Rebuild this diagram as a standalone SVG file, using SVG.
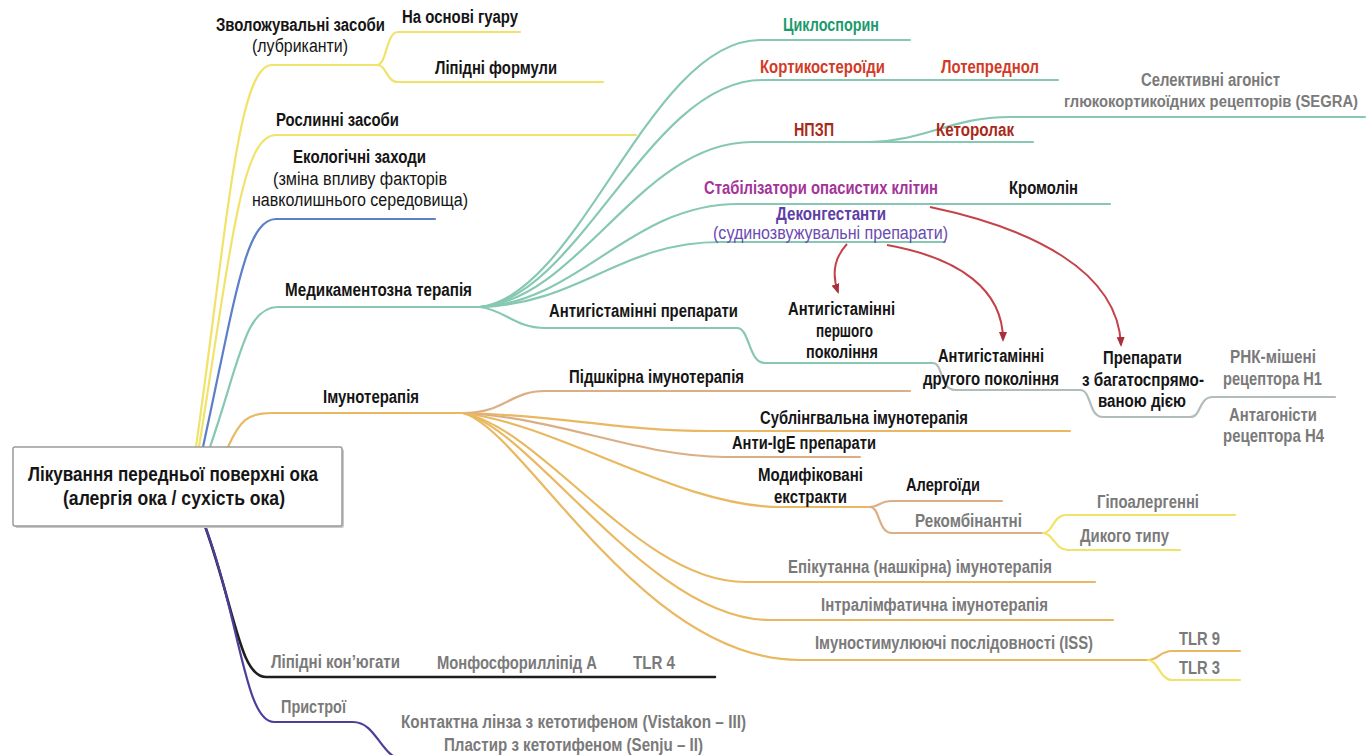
<svg xmlns="http://www.w3.org/2000/svg" width="1371" height="755" viewBox="0 0 1371 755">
<defs>
<style>
.t{font-family:"Liberation Sans Narrow","Liberation Sans",Arial,sans-serif;font-size:18px;font-weight:bold;fill:#151515}
.n{font-weight:normal}
.g{fill:#7a7a7a}
.r{font-size:21px}
.c{fill:none;stroke-width:2.2;stroke-linecap:round}
.y{stroke:#f1e36a}
.b{stroke:#5b7fc9}
.gr{stroke:#86c8b2}
.o{stroke:#e9b860}
.ob{stroke:#dcae86}
.gy{stroke:#b2bcb8}
.k{stroke:#1e1e1e;stroke-width:2.6}
.p{stroke:#4a3f9a}
.red{fill:none;stroke:#c4434a;stroke-width:2;marker-end:url(#ah)}
</style>
<marker id="ah" viewBox="0 0 10 10" refX="8" refY="5" markerWidth="5" markerHeight="5" orient="auto">
<path d="M0,1 L10,5 L0,9 z" fill="#a8303a"/>
</marker>
</defs>
<rect width="1371" height="755" fill="#ffffff"/>

<g id="connectors">
<path class="c y" d="M196,447 C228,220 238,65 272,65 L377,65"/>
<path class="c y" d="M377,65 C387,65 386,32 398,32 L520,32"/>
<path class="c y" d="M377,65 C387,65 386,82 398,82 L603,82"/>
<path class="c y" d="M199,447 C232,240 242,135 276,135 L636,135"/>
<path class="c b" d="M203,447 C235,300 245,219 276,219 L435,219"/>
<path class="c gr" d="M210,447 C240,360 245,307 278,307 L480,307"/>
<path class="c o" d="M228,447 C240,420 248,413 272,413 L463,413"/>
<path class="c k" d="M205,526 C235,610 240,677 266,677 L715,677"/>
<path class="c p" d="M205,526 C240,620 245,722 274,722 L353,722 C376,722 380,755 402,760"/>
<path class="c gr" d="M480,307 C580,295 650,40 760,40 L910,40"/>
<path class="c gr" d="M480,307 C580,297 650,80 762,80 L1058,80"/>
<path class="c gr" d="M480,307 C580,299 640,142 752,142 L1033,142"/>
<path class="c gr" d="M870,142 C930,140 950,117 1010,117 L1365,117"/>
<path class="c gr" d="M480,307 C580,302 630,204 738,204 L1110,204"/>
<path class="c gr" d="M480,307 C580,304 620,242 720,242 L945,242"/>
<path class="c gr" d="M480,307 C505,310 515,328 545,328 L737,328 C750,328 748,363 765,363 L933,363"/>
<path class="c gy" d="M933,363 C943,363 940,390 955,390 L1080,390 C1092,390 1088,417 1103,417 L1190,417 C1202,417 1198,397 1213,397 L1335,397"/>
<path class="c ob" d="M463,413 C505,413 510,391 545,391 L910,391"/>
<path class="c o" d="M463,413 C560,415 620,431 710,431 L1070,431"/>
<path class="c ob" d="M463,413 C560,418 640,457 725,457 L860,457"/>
<path class="c o" d="M463,413 C560,425 680,507 780,507 L870,507"/>
<path class="c ob" d="M870,507 C880,507 879,501 892,501 L1002,501"/>
<path class="c ob" d="M870,507 C880,507 878,533 892,533 L1043,533"/>
<path class="c y" d="M1043,533 C1053,533 1053,515 1066,515 L1235,515"/>
<path class="c y" d="M1043,533 C1053,533 1055,550 1068,550 L1180,550"/>
<path class="c o" d="M463,413 C545,430 640,582 745,582 L1095,582"/>
<path class="c o" d="M463,413 C535,430 650,620 770,620 L1113,620"/>
<path class="c o" d="M463,413 C525,430 640,660 800,660 L1148,660"/>
<path class="c o" d="M1148,660 C1158,660 1160,651 1172,651 L1240,651"/>
<path class="c y" d="M1148,660 C1158,660 1160,680 1172,680 L1240,680"/>
<path class="red" d="M847,244 C834,258 832,275 838,292"/>
<path class="red" d="M887,245 C960,258 1003,290 1003,340"/>
<path class="red" d="M930,207 C1030,228 1118,270 1121,345"/>
</g>

<g id="root">
<rect x="15" y="449" width="329" height="79" rx="2" fill="#c9c9c9"/>
<rect x="13" y="447" width="329" height="79" rx="2" fill="#ffffff" stroke="#9a9a9a" stroke-width="1.5"/>
<text class="t r" x="28" y="481" textLength="290" lengthAdjust="spacingAndGlyphs">Лікування передньої поверхні ока</text>
<text class="t r" x="63" y="505" textLength="222" lengthAdjust="spacingAndGlyphs">(алергія ока / сухість ока)</text>
</g>

<g id="n-lubricants">
<text class="t" x="216" y="31" textLength="169" lengthAdjust="spacingAndGlyphs">Зволожувальні засоби</text>
<text class="t n" x="252" y="52" textLength="96" lengthAdjust="spacingAndGlyphs">(лубриканти)</text>
</g>
<g id="n-guar"><text class="t" x="402" y="23" textLength="116" lengthAdjust="spacingAndGlyphs">На основі гуару</text></g>
<g id="n-lipid-form"><text class="t" x="435" y="74" textLength="122" lengthAdjust="spacingAndGlyphs">Ліпідні формули</text></g>
<g id="n-plant"><text class="t" x="276" y="126" textLength="123" lengthAdjust="spacingAndGlyphs">Рослинні засоби</text></g>
<g id="n-eco">
<text class="t" x="293" y="163" textLength="133" lengthAdjust="spacingAndGlyphs">Екологічні заходи</text>
<text class="t n" x="273" y="185" textLength="174" lengthAdjust="spacingAndGlyphs">(зміна впливу факторів</text>
<text class="t n" x="252" y="206" textLength="216" lengthAdjust="spacingAndGlyphs">навколишнього середовища)</text>
</g>
<g id="n-med"><text class="t" x="285" y="296" textLength="187" lengthAdjust="spacingAndGlyphs">Медикаментозна терапія</text></g>
<g id="n-immuno"><text class="t" x="323" y="403" textLength="96" lengthAdjust="spacingAndGlyphs">Імунотерапія</text></g>

<g id="n-cyclo"><text class="t" x="783" y="31" textLength="96" lengthAdjust="spacingAndGlyphs" style="fill:#1c9a6c">Циклоспорин</text></g>
<g id="n-cortico"><text class="t" x="760" y="73" textLength="125" lengthAdjust="spacingAndGlyphs" style="fill:#d23b27">Кортикостероїди</text></g>
<g id="n-lotepred"><text class="t" x="941" y="73" textLength="98" lengthAdjust="spacingAndGlyphs" style="fill:#d23b27">Лотепреднол</text></g>
<g id="n-segra">
<text class="t g" x="1141" y="86" textLength="139" lengthAdjust="spacingAndGlyphs">Селективні агоніст</text>
<text class="t g" x="1064" y="107" textLength="294" lengthAdjust="spacingAndGlyphs" style="font-size:16px">глюкокортикоїдних рецепторів (SEGRA)</text>
</g>
<g id="n-nsaid"><text class="t" x="794" y="136" textLength="40" lengthAdjust="spacingAndGlyphs" style="fill:#a82a1a">НПЗП</text></g>
<g id="n-ketorolac"><text class="t" x="936" y="136" textLength="78" lengthAdjust="spacingAndGlyphs" style="fill:#a82a1a">Кеторолак</text></g>
<g id="n-mast"><text class="t" x="704" y="194" textLength="234" lengthAdjust="spacingAndGlyphs" style="fill:#a4339a">Стабілізатори опасистих клітин</text></g>
<g id="n-cromolin"><text class="t" x="1009" y="194" textLength="69" lengthAdjust="spacingAndGlyphs">Кромолін</text></g>
<g id="n-decong">
<text class="t" x="776" y="220" textLength="110" lengthAdjust="spacingAndGlyphs" style="fill:#5f3ea6">Деконгестанти</text>
<text class="t n" x="713" y="239" textLength="235" lengthAdjust="spacingAndGlyphs" style="fill:#6a4cb2">(судинозвужувальні препарати)</text>
</g>
<g id="n-antihist"><text class="t" x="549" y="317" textLength="189" lengthAdjust="spacingAndGlyphs">Антигістамінні препарати</text></g>
<g id="n-ah1">
<text class="t" x="788" y="315" textLength="107" lengthAdjust="spacingAndGlyphs">Антигістамінні</text>
<text class="t" x="816" y="337" textLength="57" lengthAdjust="spacingAndGlyphs">першого</text>
<text class="t" x="806" y="358" textLength="72" lengthAdjust="spacingAndGlyphs">покоління</text>
</g>
<g id="n-ah2">
<text class="t" x="938" y="362" textLength="106" lengthAdjust="spacingAndGlyphs">Антигістамінні</text>
<text class="t" x="923" y="385" textLength="136" lengthAdjust="spacingAndGlyphs">другого покоління</text>
</g>
<g id="n-multi">
<text class="t" x="1103" y="364" textLength="79" lengthAdjust="spacingAndGlyphs">Препарати</text>
<text class="t" x="1082" y="386" textLength="122" lengthAdjust="spacingAndGlyphs">з багатоспрямо-</text>
<text class="t" x="1098" y="407" textLength="88" lengthAdjust="spacingAndGlyphs">ваною дією</text>
</g>
<g id="n-rna">
<text class="t g" x="1230" y="363" textLength="86" lengthAdjust="spacingAndGlyphs">РНК-мішені</text>
<text class="t g" x="1223" y="385" textLength="99" lengthAdjust="spacingAndGlyphs">рецептора H1</text>
</g>
<g id="n-h4">
<text class="t g" x="1229" y="421" textLength="88" lengthAdjust="spacingAndGlyphs">Антагоністи</text>
<text class="t g" x="1223" y="442" textLength="101" lengthAdjust="spacingAndGlyphs">рецептора H4</text>
</g>

<g id="n-scit"><text class="t" x="569" y="383" textLength="175" lengthAdjust="spacingAndGlyphs">Підшкірна імунотерапія</text></g>
<g id="n-slit"><text class="t" x="760" y="424" textLength="208" lengthAdjust="spacingAndGlyphs">Сублінгвальна імунотерапія</text></g>
<g id="n-antiige"><text class="t" x="732" y="449" textLength="144" lengthAdjust="spacingAndGlyphs">Анти-IgE препарати</text></g>
<g id="n-modif">
<text class="t" x="758" y="481" textLength="105" lengthAdjust="spacingAndGlyphs">Модифіковані</text>
<text class="t" x="774" y="503" textLength="73" lengthAdjust="spacingAndGlyphs">екстракти</text>
</g>
<g id="n-allergoid"><text class="t" x="906" y="491" textLength="74" lengthAdjust="spacingAndGlyphs">Алергоїди</text></g>
<g id="n-recomb"><text class="t g" x="915" y="527" textLength="107" lengthAdjust="spacingAndGlyphs">Рекомбінантні</text></g>
<g id="n-hypo"><text class="t g" x="1097" y="508" textLength="102" lengthAdjust="spacingAndGlyphs">Гіпоалергенні</text></g>
<g id="n-wild"><text class="t g" x="1080" y="542" textLength="89" lengthAdjust="spacingAndGlyphs">Дикого типу</text></g>
<g id="n-epic"><text class="t g" x="788" y="573" textLength="264" lengthAdjust="spacingAndGlyphs">Епікутанна (нашкірна) імунотерапія</text></g>
<g id="n-intra"><text class="t g" x="821" y="611" textLength="227" lengthAdjust="spacingAndGlyphs">Інтралімфатична імунотерапія</text></g>
<g id="n-iss"><text class="t g" x="815" y="649" textLength="278" lengthAdjust="spacingAndGlyphs">Імуностимулюючі послідовності (ISS)</text></g>
<g id="n-tlr9"><text class="t g" x="1179" y="645" textLength="41" lengthAdjust="spacingAndGlyphs">TLR 9</text></g>
<g id="n-tlr3"><text class="t g" x="1179" y="674" textLength="41" lengthAdjust="spacingAndGlyphs">TLR 3</text></g>

<g id="n-lipconj"><text class="t g" x="271" y="668" textLength="129" lengthAdjust="spacingAndGlyphs">Ліпідні кон’югати</text></g>
<g id="n-mpl"><text class="t g" x="437" y="669" textLength="160" lengthAdjust="spacingAndGlyphs">Монфосфорилліпід А</text></g>
<g id="n-tlr4"><text class="t g" x="633" y="669" textLength="42" lengthAdjust="spacingAndGlyphs">TLR 4</text></g>
<g id="n-devices"><text class="t g" x="281" y="713" textLength="65" lengthAdjust="spacingAndGlyphs">Пристрої</text></g>
<g id="n-lens"><text class="t g" x="401" y="728" textLength="345" lengthAdjust="spacingAndGlyphs">Контактна лінза з кетотифеном (Vistakon – III)</text></g>
<g id="n-patch"><text class="t g" x="444" y="751" textLength="259" lengthAdjust="spacingAndGlyphs">Пластир з кетотифеном (Senju – II)</text></g>
</svg>
